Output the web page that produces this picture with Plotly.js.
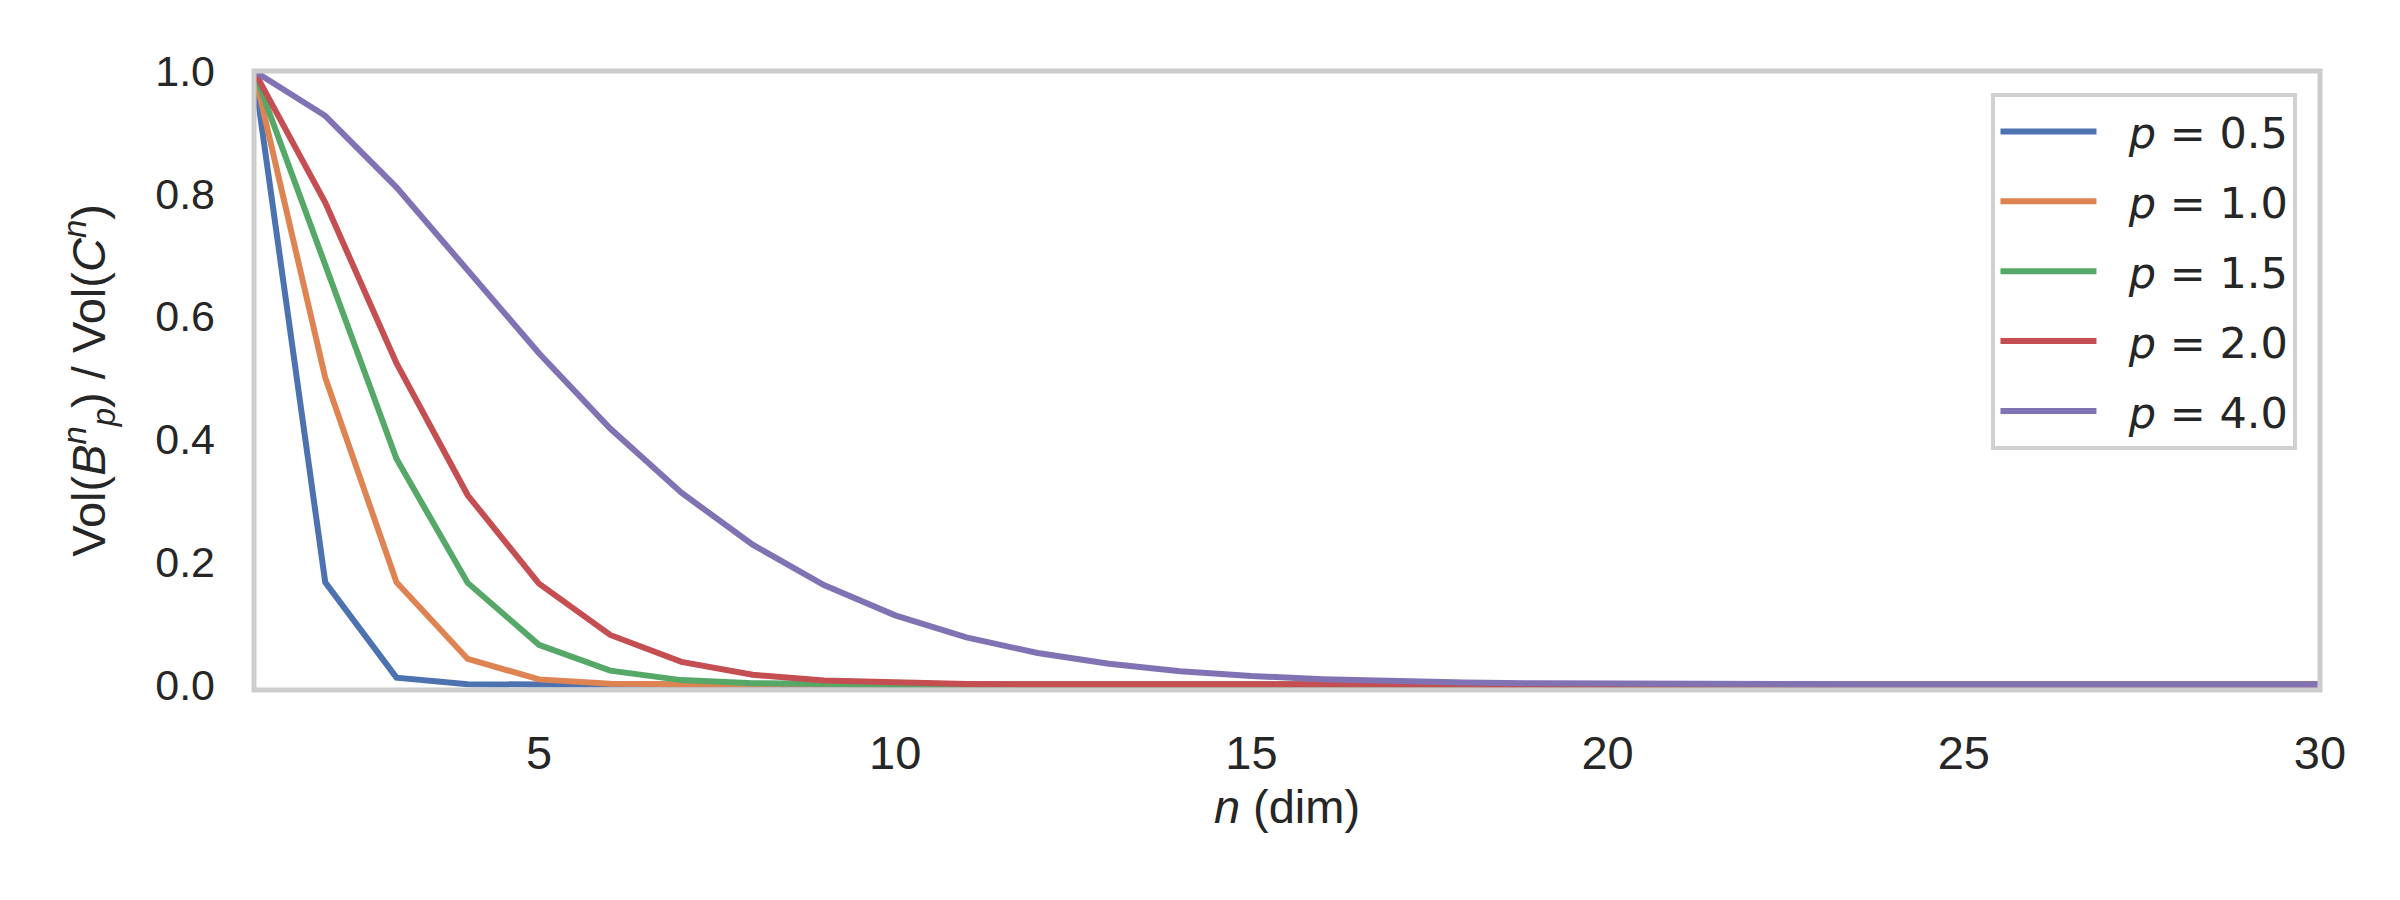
<!DOCTYPE html>
<html>
<head>
<meta charset="utf-8">
<script src="https://cdn.plot.ly/plotly-3.0.1.min.js"></script>
<style>
  html, body { margin: 0; padding: 0; background: #ffffff; }
  #chart { width: 2400px; height: 900px; }
</style>
</head>
<body>
<div id="chart"></div>
<script>
// dimension n
const dims = [1,2,3,4,5,6,7,8,9,10,11,12,13,14,15,16,17,18,19,20,21,22,23,24,25,26,27,28,29,30];

// Vol(B_p^n) / Vol(C^n) for each p
const p05 = [1, 0.16667, 0.011111, 0.000397, 0.0000088, 0.00000013, 0, 0, 0, 0, 0, 0, 0, 0, 0, 0, 0, 0, 0, 0, 0, 0, 0, 0, 0, 0, 0, 0, 0, 0];
const p10 = [1, 0.5, 0.16667, 0.041667, 0.0083333, 0.0013889, 0.00019841, 0.0000248, 0.00000276, 0.000000276, 0.000000025, 0, 0, 0, 0, 0, 0, 0, 0, 0, 0, 0, 0, 0, 0, 0, 0, 0, 0, 0];
const p15 = [1, 0.68447, 0.36785, 0.16553, 0.06474, 0.022552, 0.007116, 0.002061, 0.000553, 0.0001386, 0.0000326, 0.00000727, 0.0000015, 0.0000003, 0, 0, 0, 0, 0, 0, 0, 0, 0, 0, 0, 0, 0, 0, 0, 0];
const p20 = [1, 0.7854, 0.5236, 0.3084, 0.16449, 0.08075, 0.036912, 0.015854, 0.006442, 0.00249, 0.00092, 0.000326, 0.000111, 0.0000366, 0.0000116, 0.0000036, 0.0000011, 0.0000003, 0, 0, 0, 0, 0, 0, 0, 0, 0, 0, 0, 0];
const p40 = [1, 0.92704, 0.81025, 0.67497, 0.53998, 0.41715, 0.31251, 0.22779, 0.16199, 0.11263, 0.076705, 0.051252, 0.033643, 0.02172, 0.013806, 0.0086484, 0.005343, 0.003258, 0.001962, 0.0011675, 0.000687, 0.0004, 0.00023, 0.0001313, 0.0000742, 0.0000415, 0.000023, 0.0000127, 0.0000069, 0.0000037];

const seriesNames = ['<i>p</i> = 0.5', '<i>p</i> = 1.0', '<i>p</i> = 1.5', '<i>p</i> = 2.0', '<i>p</i> = 4.0'];
const seriesValues = [p05, p10, p15, p20, p40];
const colors = ['#4C72B0', '#DD8452', '#55A868', '#C44E52', '#8172B3'];

const xTicks = [5, 10, 15, 20, 25, 30];
const yTicks = [0, 0.2, 0.4, 0.6, 0.8, 1.0];

const traces = seriesValues.map((vals, i) => ({
  x: dims,
  y: vals,
  type: 'scatter',
  mode: 'lines',
  name: '\u00a0\u00a0' + seriesNames[i],
  legendgroup: 'g' + i,
  line: { color: colors[i], width: 6, shape: 'linear' }
}));

const textColor = '#262626';

const layout = {
  width: 2400,
  height: 900,
  paper_bgcolor: '#ffffff',
  plot_bgcolor: '#ffffff',
  margin: { l: 253.5, r: 79.5, t: 71, b: 210, pad: 0 },
  font: { family: 'Liberation Sans, Arial, sans-serif', color: textColor },
  showlegend: true,
  legend: {
    x: 0.9891, xanchor: 'right',
    y: 0.9645, yanchor: 'top',
    bgcolor: '#ffffff',
    bordercolor: '#d0d0d0',
    borderwidth: 4,
    font: { family: 'DejaVu Sans', size: 43, color: textColor },
    itemwidth: 96,
    tracegroupgap: 11
  },
  xaxis: {
    range: [1, 30],
    tickvals: xTicks,
    ticktext: xTicks.map(String),
    showgrid: false,
    zeroline: false,
    showline: false,
    ticks: '',
    ticklabelstandoff: 31,
    tickfont: { family: 'Liberation Sans, Arial, sans-serif', size: 47, color: textColor },
    title: {
      text: '<i>n</i> (dim)',
      font: { family: 'Liberation Sans, Arial, sans-serif', size: 47, color: textColor },
      standoff: 12
    }
  },
  yaxis: {
    range: [-0.009, 1.0],
    tickvals: yTicks,
    ticktext: yTicks.map(v => v.toFixed(1)),
    showgrid: false,
    zeroline: false,
    showline: false,
    ticks: '',
    ticklabelstandoff: 38,
    tickfont: { family: 'Liberation Sans, Arial, sans-serif', size: 43, color: textColor },
    title: {
      text: 'Vol(<i>B</i><sup><i>n</i></sup><sub><i>p</i></sub>) / Vol(<i>C</i><sup><i>n</i></sup>)',
      font: { family: 'Liberation Sans, Arial, sans-serif', size: 47, color: textColor },
      standoff: 34
    }
  },
  shapes: [{
    type: 'rect', xref: 'paper', yref: 'paper',
    x0: 0, x1: 1, y0: 0, y1: 1,
    line: { color: '#cccccc', width: 5 },
    fillcolor: 'rgba(0,0,0,0)',
    layer: 'above'
  }]
};

Plotly.newPlot('chart', traces, layout, { staticPlot: true, displayModeBar: false });
</script>
</body>
</html>
